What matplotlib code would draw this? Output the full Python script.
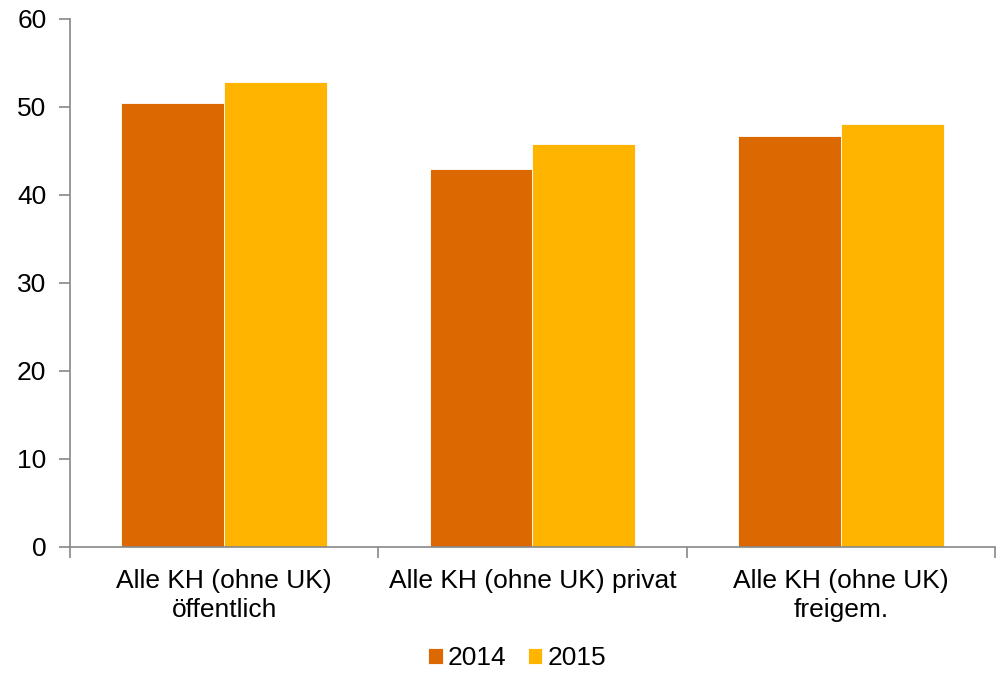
import matplotlib.pyplot as plt
from matplotlib.ticker import FixedLocator
import numpy as np

plt.rcParams['font.family'] = ['Liberation Sans', 'DejaVu Sans']

categories = ['Alle KH (ohne UK)\nöffentlich', 'Alle KH (ohne UK) privat', 'Alle KH (ohne UK)\nfreigem.']
years = ['2014', '2015']
values_2014 = [50.5, 42.9, 46.7]
values_2015 = [52.8, 45.8, 48.1]
colors = ['#DB6800', '#FFB400']

fig = plt.figure(figsize=(9.98, 6.73), dpi=100)
ax = fig.add_axes([70 / 998, 1 - 547 / 673, 925 / 998, 528 / 673])

x = np.arange(len(categories))
w = 1 / 3
ax.bar(x - w / 2, values_2014, w, color=colors[0], edgecolor='white', linewidth=0.6, label=years[0])
ax.bar(x + w / 2, values_2015, w, color=colors[1], edgecolor='white', linewidth=0.6, label=years[1])

ax.set_xlim(-0.5, 2.5)
ax.set_ylim(0, 60)
ax.set_yticks(range(0, 61, 10))
ax.set_xticks(x)
ax.set_xticklabels(categories, fontsize=19, linespacing=1.25)
# group separators as minor ticks on the x axis
ax.xaxis.set_minor_locator(FixedLocator([-0.5, 0.5, 1.5, 2.5]))
ax.tick_params(axis='x', which='major', length=0, pad=16)
ax.tick_params(axis='x', which='minor', length=8, color='#888888', width=1.2)
ax.tick_params(axis='y', length=8, color='#888888', width=1.2, labelsize=19, pad=9)

for s in ['top', 'right']:
    ax.spines[s].set_visible(False)
for s in ['left', 'bottom']:
    ax.spines[s].set_color('#888888')
    ax.spines[s].set_linewidth(1.2)

fig.legend(loc='center', bbox_to_anchor=(517 / 998, 1 - 658 / 673), ncol=2, frameon=False,
           fontsize=19, handlelength=0.55, handleheight=0.55, handletextpad=0.2,
           columnspacing=0.8, borderpad=0.1)

fig.savefig('out.png', dpi=100)
